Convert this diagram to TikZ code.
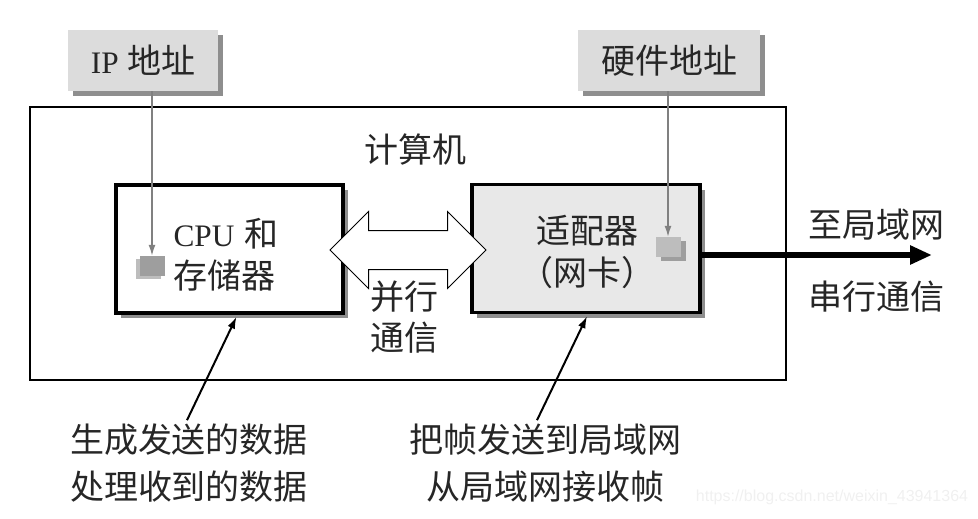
\documentclass[tikz,border=0pt]{standalone}
\usepackage{fontspec}
\setmainfont{Noto Sans CJK SC}
\newfontfamily\lat[Scale=0.92]{Liberation Serif}
\newfontfamily\web{Liberation Sans}
\usetikzlibrary{shapes.arrows,shadows,arrows.meta}
\definecolor{tagfill}{HTML}{DCDCDC}
\definecolor{tagshade}{HTML}{8E8E8E}
\definecolor{cardfill}{HTML}{E8E8E8}
\definecolor{portdark}{HTML}{9E9E9E}
\definecolor{portlight}{HTML}{BDBDBD}
\definecolor{ink}{HTML}{262626}
\tikzset{
  every node/.style={font=\fontsize{34}{42}\selectfont, text=ink},
  tag/.style={fill=tagfill, minimum height=61pt, inner sep=0pt,
    drop shadow={shadow xshift=5pt, shadow yshift=-5pt, fill=tagshade, opacity=1}},
  unit/.style={draw=black, line width=3.5pt, minimum width=227pt, minimum height=128pt,
    drop shadow={shadow xshift=5pt, shadow yshift=-5pt, fill=tagshade, opacity=1}},
  port/.style={minimum width=25pt, minimum height=20pt, inner sep=0pt},
  feed/.style={draw=gray, line width=1.5pt, -{Latex[length=11pt,width=7pt]}},
  point/.style={draw=black, line width=2pt, -{Latex[length=12pt,width=8pt]}}
}
\begin{document}
\begin{tikzpicture}[x=1pt, y=-1pt]
  \useasboundingbox (0,0) rectangle (978,519);
  % the computer
  \node[draw=black, line width=1.8pt, minimum width=756pt, minimum height=273pt] (pc) at (408,243.5) {};
  \node (pctitle) at (415,150) {计算机};
  \node[unit, fill=white] (cpu) at (229.5,249) {};
  \node[unit, fill=cardfill, minimum width=228pt] (card) at (586,248.5) {};
  \node[anchor=west, align=left] (cputext) at (170,255) {{\lat CPU}\hspace{0.3em}和\\存储器};
  \node[align=center] (cardtext) at (587,252) {适配器\\（网卡）};
  % parallel bus
  \node[double arrow, draw=black, fill=white, line width=1pt, inner xsep=0pt, inner ysep=19pt,
    minimum height=156pt, double arrow head extend=19pt,
    double arrow head indent=0pt] (bus) at (408,250) {};
  \node[align=center, font=\fontsize{34}{41}\selectfont] (buslabel) at (404,317) {并行\\通信};
  % addresses
  \node[tag, minimum width=150pt] (ip) at (143,60.5) {{\lat IP}\hspace{0.25em}地址};
  \node[tag, minimum width=182pt] (hw) at (669,60.5) {硬件地址};
  \node[port, fill=portdark,
    drop shadow={shadow xshift=-4pt, shadow yshift=-3pt, fill=portlight, opacity=1}] (ipport) at (152,266) {};
  \node[port, fill=portlight,
    drop shadow={shadow xshift=5pt, shadow yshift=-4pt, fill=portdark, opacity=1}] (hwport) at (668,247) {};
  \draw[feed] (ipport.north |- ip.south) -- (ipport.north);
  \draw[feed] (hwport.north |- hw.south) -- (hwport.north);
  % serial link
  \coordinate (lan) at (932,255);
  \draw[line width=6pt, -{Triangle[length=22pt,width=18pt]}] (card.east |- lan) -- (lan);
  \node (tolan) at (876,225) {至局域网};
  \node (serial) at (876,297) {串行通信};
  % what the parts do
  \node[align=center, font=\fontsize{34}{47}\selectfont] (gen) at (189,463) {生成发送的数据\\处理收到的数据};
  \node[align=center, font=\fontsize{34}{47}\selectfont] (send) at (545,463) {把帧发送到局域网\\从局域网接收帧};
  \draw[point] ([xshift=-2pt]gen.north) -- ([xshift=7pt, yshift=-2pt]cpu.south);
  \draw[point] ([xshift=-8pt]send.north) -- ([xshift=1pt, yshift=-2pt]card.south);
  \node[font=\web\fontsize{16}{16}\selectfont, text=black!6] (wm) at (832,497) {https://blog.csdn.net/weixin\_43941364};
\end{tikzpicture}
\end{document}
